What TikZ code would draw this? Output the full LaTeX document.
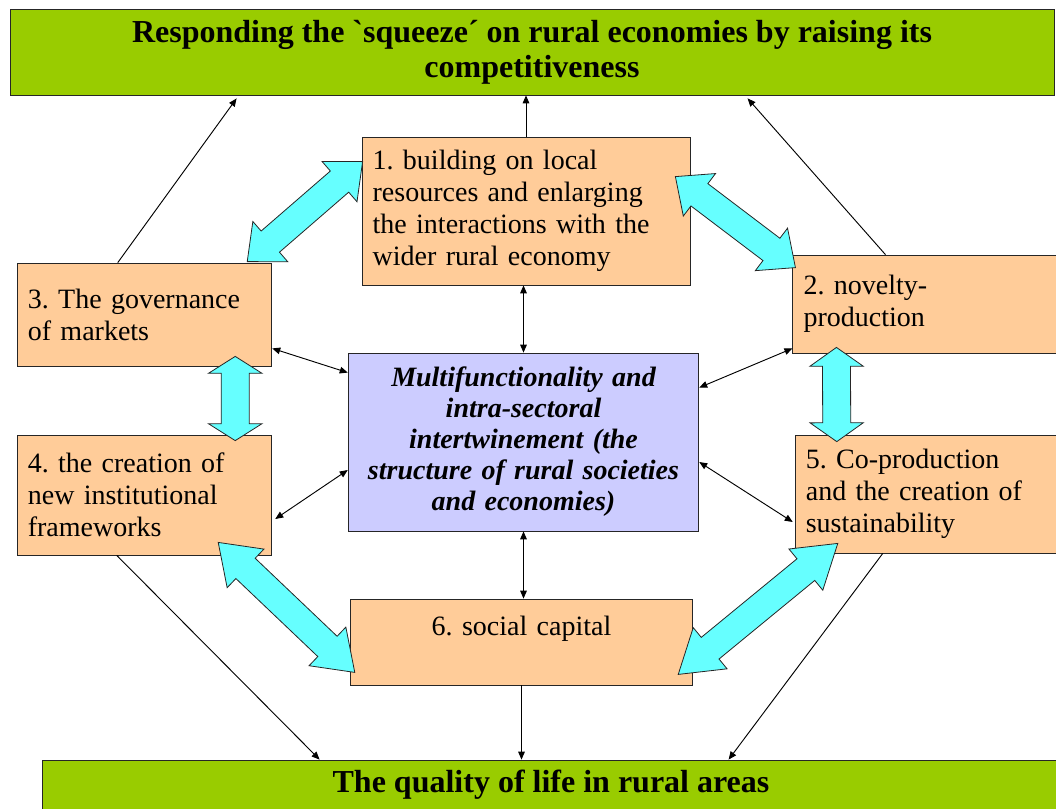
\documentclass[tikz,border=0pt]{standalone}
\usepackage{fontspec}
\setmainfont{Liberation Serif}[Ligatures=TeXOff]
\frenchspacing
\usepackage{tikz}
\usetikzlibrary{calc,arrows.meta,math}
\definecolor{HeadGreen}{RGB}{153,204,0}
\definecolor{BoxOrange}{RGB}{255,204,153}
\definecolor{BoxLilac}{RGB}{204,204,255}
\definecolor{FatCyan}{RGB}{102,255,255}
\tikzset{%
  box/.style={draw=black!85, line width=0.6pt, fill=BoxOrange, inner xsep=8pt,
    text width=#1, align=left, font=\fontsize{21}{24}\selectfont},
  headbox/.style={draw=black!85, line width=0.6pt, fill=HeadGreen, align=center,
    font=\bfseries\fontsize{24}{26}\selectfont},
  link/.style={line width=0.7pt, -{Triangle[length=6pt,width=5pt]}},
  both/.style={line width=0.7pt, {Triangle[length=6pt,width=5pt]}-{Triangle[length=6pt,width=5pt]}},
  fat/.style={draw=black!85, line width=0.6pt, fill=FatCyan, line join=miter}
}
% block arrow with a head at both ends
\newcommand\fatarrow[2]{%
  \coordinate (fp) at ($(#1)!0.2!(#2)$);
  \coordinate (fq) at ($(#2)!0.2!(#1)$);
  \draw[fat] (#1) -- ($(fp)!\fathead pt!90:(#2)$) -- ($(fp)!\fatshaft pt!90:(#2)$)
    -- ($(fq)!\fatshaft pt!-90:(#1)$) -- ($(fq)!\fathead pt!-90:(#1)$) -- (#2)
    -- ($(fq)!\fathead pt!90:(#1)$) -- ($(fq)!\fatshaft pt!90:(#1)$)
    -- ($(fp)!\fatshaft pt!-90:(#2)$) -- ($(fp)!\fathead pt!-90:(#2)$) -- cycle;
}

\begin{document}
\begin{tikzpicture}[x=0.75pt,y=-0.75pt]
  \tikzmath{
    \fathead=20;
    \fatshaft=10.5;
  }
  \useasboundingbox (0,0) rectangle (1056,808);

  \node[headbox, minimum width=783pt, minimum height=64.5pt] (top) at (532,52)
    {Responding the `squeeze´ on rural economies by raising its\\competitiveness};
  \node[headbox, minimum width=763.5pt, minimum height=37.5pt] (bottom) at (551,785)
    {The quality of life in rural areas};

  \node[box=230pt, minimum height=111pt] (b1) at (526,211)
    {1. building on local\\resources and enlarging\\the interactions with the\\wider rural economy};
  \node[box=192pt, minimum height=73.5pt] (b2) at (931.5,304)
    {2. novelty-\\production};
  \node[box=175pt, minimum height=77.25pt] (b3) at (144.5,314.5)
    {3. The governance\\of markets};
  \node[box=175pt, minimum height=90pt] (b4) at (144.5,495)
    {4. the creation of\\new institutional\\frameworks};
  \node[box=190pt, minimum height=88.5pt] (b5) at (932.5,494)
    {5. Co-production\\and the creation of\\sustainability};
  \node[box=241pt, align=center, minimum height=64.5pt] (b6) at (521.5,642)
    {6. social capital\\\mbox{}};
  \node[box=247pt, align=center, fill=BoxLilac, minimum height=133.5pt,
    font=\bfseries\itshape\fontsize{21}{23.25}\selectfont] (mid) at (523.5,442)
    {Multifunctionality and\\intra-sectoral\\intertwinement (the\\structure of rural societies\\and economies)};

  % towards the two outcomes
  \draw[link] (b1.north) -- (b1.north |- top.south);
  \draw[link] ($(b3.north west)+(101,0)$) -- ($(top.south west)+(227,3)$);
  \draw[link] ($(b2.north west)+(93,0)$) -- ($(top.south west)+(738,3)$);
  \draw[link] (b6.south) -- (b6.south |- bottom.north);
  \draw[link] ($(b4.south west)+(100,0)$) -- ($(bottom.north west)+(278,0)$);
  \draw[link] ($(b5.south west)+(88,0)$) -- ($(bottom.north west)+(687,0)$);

  % links with the core
  \draw[both] (mid.north) -- (mid.north |- b1.south);
  \draw[both] (mid.south) -- (mid.south |- b6.north);
  \draw[both] ($(b3.south east)+(0,-18)$) -- ($(mid.north west)+(0,20)$);
  \draw[both] ($(mid.north east)+(0,35)$) -- ($(b2.south west)+(0,-5)$);
  \draw[both] ($(b4.east)+(3,24)$) -- ($(mid.west)+(0,28)$);
  \draw[both] ($(mid.east)+(0,20)$) -- ($(b5.west)+(-2,28)$);

  % the ring of block arrows
  \coordinate (f1a) at ($(b3.north east)+(-25,-1)$);
  \coordinate (f1b) at ($(b1.north west)+(1,25)$);
  \coordinate (f2a) at ($(b1.north east)+(-15,40)$);
  \coordinate (f2b) at ($(b2.north west)+(3,13)$);
  \coordinate (f3a) at ($(b3.south east)+(-37,-10)$);
  \coordinate (f3b) at ($(b4.north east)+(-37,6)$);
  \coordinate (f4a) at ($(b2.south west)+(44,-6)$);
  \coordinate (f4b) at ($(b5.north west)+(42,7)$);
  \coordinate (f5a) at ($(b4.south east)+(-54,-13)$);
  \coordinate (f5b) at ($(b6.south west)+(5,-13)$);
  \coordinate (f6a) at ($(b5.south west)+(43,-10)$);
  \coordinate (f6b) at ($(b6.south east)+(-15,-11)$);
  \foreach \a/\b in {f1a/f1b, f2a/f2b, f3a/f3b, f4a/f4b, f5a/f5b, f6a/f6b} {
    \fatarrow{\a}{\b}
  }
\end{tikzpicture}
\end{document}
